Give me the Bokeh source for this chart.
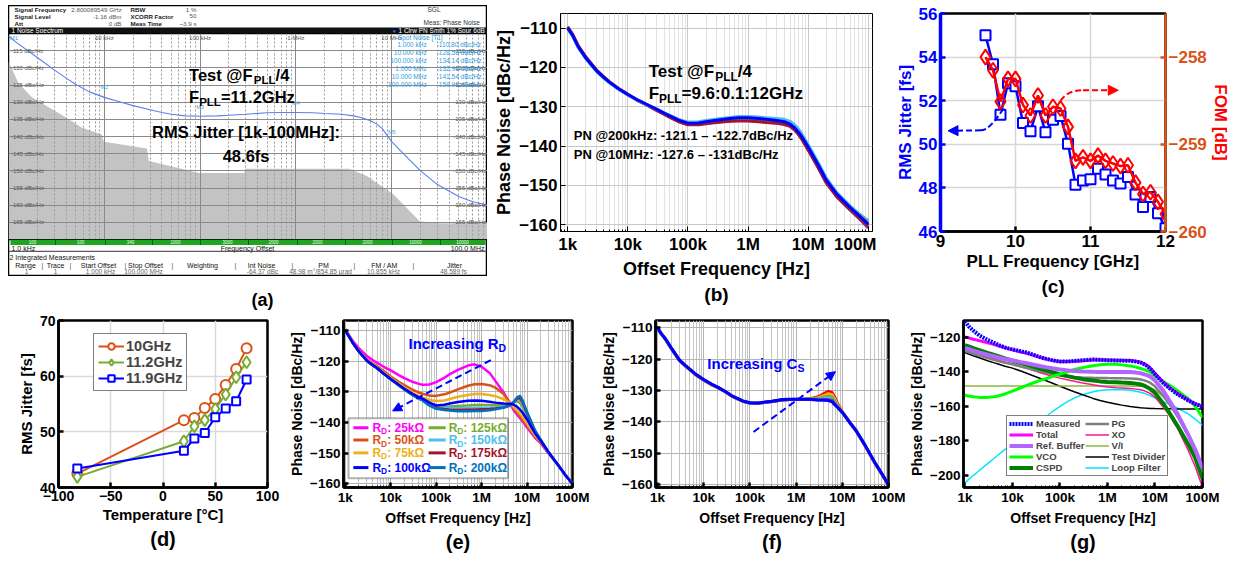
import json
from bokeh.plotting import figure
from bokeh.layouts import row, column
from bokeh.models import (Range1d, LinearAxis, FixedTicker, Legend, LegendItem, Title, Spacer,
                          BoxAnnotation, Arrow, NormalHead, CustomJSTickFormatter)
from bokeh.core.properties import value
from bokeh.embed import file_html
from bokeh.resources import INLINE

FONT = "Liberation Sans"

# ------------------------------------------------------------------ data
FREQ = [1e3, 1.2e3, 1.5e3, 2e3, 3e3, 4e3, 5e3, 7e3,
        1e4, 1.5e4, 2e4, 3e4, 4e4, 5e4, 7e4,
        1e5, 1.5e5, 2e5, 3e5, 5e5, 7e5,
        1e6, 1.5e6, 2e6, 3e6, 4e6, 5e6, 6e6, 7e6, 8e6,
        1e7, 1.5e7, 2e7, 3e7, 5e7, 7e7, 1e8]
X_TICKS = [1e3, 1e4, 1e5, 1e6, 1e7, 1e8]
X_TICK_LABELS = ["1k", "10k", "100k", "1M", "10M", "100M"]

# (a) analyser screenshot
A_PN = [-110.8, -112.5, -114.5, -117.0, -120.6, -123.0, -124.8, -127.0,
        -128.6, -130.0, -131.0, -132.2, -133.0, -133.5, -134.0,
        -134.1, -134.0, -133.8, -133.5, -133.1, -133.0,
        -133.0, -133.1, -133.3, -133.5, -134.0, -134.6, -135.4, -136.4, -137.8,
        -141.5, -146.5, -150.0, -154.0, -157.5, -159.0, -160.0]
A_GRAY_F = [1e3, 1.27e3, 1.74e3, 2.62e3, 3.96e3, 5.8e3, 9.4e3, 9.9e3, 27.9e3, 29.2e3,
            97.8e3, 289e3, 296e3, 3.6e6, 5.5e6, 10.4e6, 19.6e6, 31.5e6, 1e8]
A_GRAY_DB = [-118.2, -124.4, -128.5, -131.5, -134.4, -137.4, -139.4, -141.5, -143.5, -147.1,
             -150.6, -150.6, -149.4, -149.4, -151.5, -156.8, -164.7, -165.3, -165.3]
A_YTICKS = [-115, -120, -125, -130, -135, -140, -145, -150, -155, -160, -165]
A_YTICK_LABELS = ["%d dBc/Hz" % t for t in A_YTICKS]
A_XTICKS = [1e4, 1e5, 1e6, 1e7]
A_XTICK_LABELS = ["10 kHz", "100 kHz", "1 MHz", "10 MHz"]
A_MARK_F = [1e4, 1e5, 1e6, 1e7]
A_MARK_DB = [-126.5, -132.4, -131.2, -139.7]
A_MARK_LAB = ["M2", "M3", "M4", "M5"]
A_SPOT_F = ["1.000 kHz", "10.000 kHz", "100.000 kHz", "1.000 MHz", "10.000 MHz", "100.000 MHz"]
A_SPOT_V = ["-110.80 dBc/Hz", "-128.58 dBc/Hz", "-134.14 dBc/Hz", "-132.96 dBc/Hz",
            "-141.54 dBc/Hz", "-159.99 dBc/Hz"]
A_HDR_LAB = ["Signal Frequency", "Signal Level", "Att"]
A_HDR_VAL = ["2.800089549 GHz", "-1.16 dBm", "0 dB"]
A_HDR_LAB2 = ["RBW", "XCORR Factor", "Meas Time"]
A_HDR_VAL2 = ["1 %", "50", "~3.9 s"]
A_BAR_LABELS = ["100", "100", "340", "1000", "3000", "2000", "2000", "2000", "10000", "10000"]
A_COLS = ["Range", "Trace", "Start Offset", "Stop Offset", "Weighting", "Int Noise", "PM",
          "FM / AM", "Jitter"]
A_VALS = ["1", "1", "1.000 kHz", "100.000 MHz", "", "-64.37 dBc", "48.98 m°/854.85 µrad",
          "10.855 kHz", "48.589 fs"]

# (b) 25 PLL frequencies, representative traces
B_BLUE = [-110.0, -111.8, -114.8, -117.6, -120.8, -122.6, -123.8, -125.4,
          -126.9, -128.4, -129.3, -130.6, -131.6, -132.3, -133.4,
          -134.2, -134.1, -133.8, -133.4, -133.0, -132.8,
          -132.8, -133.0, -133.2, -133.5, -133.8, -134.4, -135.4, -136.6, -137.8,
          -140.2, -145.0, -148.6, -152.2, -155.6, -157.6, -159.8]
B_ORANGE = [-109.6, -111.5, -114.5, -117.3, -120.6, -122.4, -123.7, -125.3,
            -126.8, -128.4, -129.4, -130.8, -131.8, -132.6, -133.7,
            -134.5, -134.5, -134.2, -133.9, -133.6, -133.5,
            -133.5, -133.7, -133.9, -134.1, -134.3, -134.8, -135.8, -137.0, -138.2,
            -140.6, -145.4, -149.0, -152.6, -156.0, -158.0, -160.3]
B_CYAN = [-110.2, -112.0, -115.0, -117.8, -121.0, -122.8, -124.0, -125.5,
          -127.0, -128.5, -129.4, -130.6, -131.5, -132.2, -133.2,
          -133.9, -133.8, -133.5, -133.1, -132.7, -132.5,
          -132.5, -132.6, -132.8, -133.0, -133.2, -133.7, -134.6, -135.8, -137.1,
          -139.6, -144.4, -148.1, -151.8, -155.2, -157.2, -159.4]
B_GREEN = [-110.1, -111.9, -114.9, -117.7, -120.9, -122.7, -123.9, -125.5,
           -127.0, -128.5, -129.4, -130.7, -131.7, -132.4, -133.5,
           -134.3, -134.2, -133.9, -133.6, -133.2, -133.0,
           -133.0, -133.2, -133.4, -133.7, -134.0, -134.6, -135.6, -136.8, -138.0,
           -140.4, -145.2, -148.8, -152.3, -155.4, -157.2, -159.0]
B_PURPLE = [-109.8, -111.7, -114.7, -117.5, -120.7, -122.5, -123.8, -125.4,
            -126.9, -128.4, -129.3, -130.7, -131.7, -132.5, -133.6,
            -134.4, -134.3, -134.0, -133.7, -133.3, -133.2,
            -133.2, -133.4, -133.6, -133.9, -134.2, -134.7, -135.7, -137.0, -138.3,
            -140.9, -145.8, -149.4, -152.9, -156.3, -158.4, -160.8]
B_RED = [-109.9, -111.6, -114.6, -117.4, -120.7, -122.5, -123.8, -125.4,
         -126.9, -128.5, -129.5, -130.9, -131.9, -132.7, -133.8,
         -134.6, -134.6, -134.3, -134.0, -133.7, -133.6,
         -133.6, -133.8, -134.0, -134.2, -134.5, -135.0, -136.0, -137.2, -138.5,
         -141.0, -145.6, -149.2, -152.8, -156.1, -158.1, -160.1]
B_SERIES = [B_ORANGE, B_PURPLE, B_GREEN, B_RED, B_CYAN, B_BLUE]
B_COLORS = ["#D95319", "#7E2F8E", "#77AC30", "#A2142F", "#4DBEEE", "#0000FF"]

# (c) jitter / FOM vs PLL frequency
C_FREQ = [9.6, 9.7, 9.8, 9.9, 10.0, 10.1, 10.2, 10.3, 10.4, 10.5, 10.6, 10.7, 10.8,
          10.9, 11.0, 11.1, 11.2, 11.3, 11.4, 11.5, 11.6, 11.7, 11.8, 11.9, 12.0]
C_JITTER = [55.0, 53.67, 51.36, 52.8, 52.66, 50.98, 50.6, 51.74, 50.55, 51.13, 51.3, 50.03,
            48.14, 48.34, 48.4, 48.88, 48.62, 48.34, 48.2, 48.5, 47.7, 47.12, 47.58, 46.84, 46.15]
C_FOM = [-258.0, -258.15, -258.51, -258.25, -258.25, -258.55, -258.67, -258.44, -258.67,
         -258.57, -258.59, -258.8, -259.19, -259.15, -259.19, -259.13, -259.19, -259.22,
         -259.25, -259.24, -259.44, -259.57, -259.55, -259.66, -259.8]

# (d) jitter vs temperature
D_TEMP = [-82, 20, 30, 40, 50, 60, 70, 80]
D_10G = [42.5, 52.1, 52.5, 54.3, 55.9, 58.4, 61.3, 65.0]
D_112G = [41.9, 48.3, 51.0, 52.1, 54.1, 56.7, 59.8, 62.5]
D_119G = [43.4, 46.6, 48.8, 49.8, 52.6, 54.2, 55.5, 59.4]
D_LABELS = ["10GHz", "11.2GHz", "11.9GHz"]

# (e) R_D sweep
E_25K = [-109.5, -111.4, -113.6, -115.8, -118.3, -119.6, -120.5, -121.8,
         -123.0, -124.5, -125.5, -126.7, -127.3, -127.7, -127.6,
         -126.8, -125.4, -124.2, -122.8, -121.4, -121.0,
         -121.8, -123.8, -126.4, -130.0, -133.4, -135.8, -137.4, -138.6, -139.6,
         -141.6, -145.0, -146.8, -150.2, -154.2, -157.2, -160.0]
E_50K = [-109.5, -111.6, -114.0, -116.5, -119.3, -120.7, -121.6, -123.2,
         -125.0, -126.7, -127.8, -129.3, -130.1, -130.6, -131.2,
         -131.3, -130.8, -130.2, -129.2, -128.0, -127.5,
         -127.4, -127.8, -128.6, -130.6, -133.0, -135.2, -136.8, -138.0, -139.0,
         -141.0, -144.6, -146.5, -150.1, -154.2, -157.2, -160.0]
E_75K = [-109.5, -111.6, -114.1, -116.7, -119.6, -121.0, -122.0, -123.7,
         -125.5, -127.3, -128.6, -130.2, -131.2, -131.8, -132.6,
         -133.0, -132.8, -132.3, -131.6, -131.0, -130.7,
         -130.7, -131.0, -131.4, -132.3, -133.4, -134.8, -136.0, -137.2, -138.2,
         -140.3, -144.2, -146.3, -150.0, -154.2, -157.2, -160.0]
E_100K = [-110.0, -111.9, -114.2, -116.8, -119.8, -121.2, -122.2, -124.0,
          -125.8, -127.7, -129.0, -130.6, -131.6, -132.2, -133.4,
          -134.4, -134.2, -133.8, -133.3, -132.9, -132.8,
          -132.9, -133.2, -133.5, -133.8, -133.9, -134.1, -134.8, -135.8, -136.8,
          -139.0, -143.5, -146.0, -149.8, -154.2, -157.2, -160.0]
E_125K = [-110.0, -111.9, -114.3, -116.9, -119.9, -121.3, -122.3, -124.1,
          -125.9, -127.8, -129.1, -130.8, -131.8, -132.5, -133.8,
          -134.8, -134.9, -134.8, -134.6, -134.4, -134.3,
          -134.3, -134.3, -134.3, -134.2, -134.0, -133.4, -133.0, -133.6, -135.0,
          -138.0, -143.2, -145.9, -149.8, -154.2, -157.2, -160.0]
E_150K = [-110.0, -111.9, -114.3, -116.9, -119.9, -121.3, -122.3, -124.1,
          -125.9, -127.8, -129.2, -130.9, -131.9, -132.6, -134.0,
          -135.0, -135.2, -135.3, -135.3, -135.2, -135.2,
          -135.2, -135.1, -135.0, -134.8, -134.3, -133.5, -132.6, -132.6, -134.0,
          -137.4, -143.0, -145.8, -149.8, -154.2, -157.2, -160.0]
E_175K = [-110.0, -111.9, -114.3, -116.9, -119.9, -121.3, -122.3, -124.1,
          -125.9, -127.8, -129.2, -131.0, -132.0, -132.7, -134.2,
          -135.3, -135.6, -135.8, -135.9, -135.8, -135.8,
          -135.7, -135.6, -135.4, -135.1, -134.5, -133.5, -132.2, -132.0, -133.4,
          -137.0, -142.8, -145.7, -149.8, -154.2, -157.2, -160.0]
E_200K = [-110.0, -111.9, -114.3, -116.9, -119.9, -121.3, -122.3, -124.1,
          -125.9, -127.8, -129.2, -131.0, -132.1, -132.8, -134.4,
          -135.5, -135.9, -136.1, -136.3, -136.3, -136.2,
          -136.2, -136.0, -135.7, -135.2, -134.6, -133.4, -131.8, -131.3, -132.8,
          -136.6, -142.6, -145.6, -149.8, -154.2, -157.2, -160.0]
E_SERIES = [E_25K, E_50K, E_75K, E_100K, E_125K, E_150K, E_175K, E_200K]
E_COLORS = ["#FF00FF", "#D95319", "#EDB120", "#0000FF", "#77AC30", "#4DBEEE", "#A2142F", "#0072BD"]
E_LABELS = ["25kΩ", "50kΩ", "75kΩ", "100kΩ", "125kΩ", "150kΩ", "175kΩ", "200kΩ"]

# (f) C_S sweep
F_BLUE = [-110.0, -111.8, -113.6, -116.5, -120.3, -122.0, -123.2, -125.0,
          -126.5, -128.0, -128.9, -130.4, -131.6, -132.3, -133.3,
          -133.9, -134.0, -133.7, -133.4, -132.9, -132.8,
          -132.8, -132.8, -132.8, -133.0, -133.1, -133.2, -133.6, -134.7, -135.5,
          -137.0, -140.5, -142.8, -147.0, -152.8, -156.2, -160.0]
F_PURPLE = [-110.1, -111.9, -113.7, -116.6, -120.4, -122.1, -123.3, -125.1,
            -126.6, -128.1, -129.0, -130.5, -131.7, -132.4, -133.4,
            -134.0, -134.1, -133.8, -133.5, -133.0, -132.9,
            -132.9, -132.9, -132.9, -133.0, -132.9, -132.9, -133.1, -134.3, -135.3,
            -136.9, -140.5, -142.9, -147.1, -152.9, -156.3, -160.1]
F_CYAN = [-110.1, -111.9, -113.7, -116.6, -120.4, -122.1, -123.3, -125.1,
          -126.6, -128.1, -129.0, -130.5, -131.7, -132.4, -133.4,
          -134.0, -134.1, -133.8, -133.5, -133.0, -132.9,
          -132.9, -132.9, -132.9, -132.7, -132.5, -132.4, -132.7, -133.9, -135.2,
          -136.9, -140.5, -142.9, -147.1, -152.9, -156.3, -160.1]
F_GREEN = [-110.1, -111.9, -113.7, -116.6, -120.4, -122.1, -123.3, -125.1,
           -126.6, -128.1, -129.0, -130.5, -131.7, -132.4, -133.4,
           -134.0, -134.1, -133.8, -133.5, -133.0, -132.9,
           -132.9, -132.8, -132.7, -132.5, -132.1, -131.8, -132.1, -133.5, -135.0,
           -137.0, -140.5, -142.9, -147.1, -152.9, -156.3, -160.1]
F_ORANGE = [-110.1, -111.9, -113.7, -116.6, -120.4, -122.1, -123.3, -125.1,
            -126.6, -128.1, -129.0, -130.5, -131.7, -132.4, -133.4,
            -134.0, -134.1, -133.8, -133.5, -133.0, -132.9,
            -132.9, -132.8, -132.7, -132.3, -131.6, -131.0, -131.3, -133.0, -134.7,
            -136.9, -140.5, -142.9, -147.1, -152.9, -156.3, -160.1]
F_RED = [-110.2, -111.9, -113.8, -116.7, -120.5, -122.2, -123.4, -125.2,
         -126.7, -128.2, -129.0, -130.5, -131.7, -132.4, -133.4,
         -134.0, -134.1, -133.8, -133.5, -133.0, -132.9,
         -132.8, -132.7, -132.6, -132.0, -131.0, -130.3, -130.6, -132.4, -134.3,
         -136.8, -140.4, -142.9, -147.2, -153.0, -156.4, -160.2]
F_SERIES = [F_RED, F_ORANGE, F_GREEN, F_CYAN, F_PURPLE, F_BLUE]
F_COLORS = ["#FF0000", "#EDB120", "#77AC30", "#4DBEEE", "#7E2F8E", "#0000FF"]

# (g) noise contributions
G_MEAS = [-110.6, -113.5, -116.0, -118.7, -121.4, -123.0, -124.2, -125.8,
          -126.9, -128.0, -128.7, -130.4, -131.6, -132.3, -133.3,
          -134.0, -134.0, -133.6, -133.2, -132.8, -132.9,
          -133.2, -133.3, -133.4, -133.5, -134.0, -134.6, -135.6, -136.8, -138.2,
          -141.3, -146.5, -149.4, -153.0, -156.6, -158.6, -160.2]
G_TOTAL = [-119.6, -120.2, -121.0, -121.8, -123.0, -124.0, -124.8, -126.0,
           -127.2, -128.4, -129.2, -130.6, -131.7, -132.4, -133.3,
           -133.9, -134.0, -133.8, -133.5, -133.1, -133.0,
           -133.1, -133.2, -133.3, -133.4, -133.8, -134.4, -135.3, -136.4, -137.8,
           -140.8, -146.0, -149.0, -152.6, -156.3, -158.4, -160.0]
G_REFBUF = [-126.0, -126.7, -127.6, -128.6, -130.0, -130.9, -131.6, -132.5,
            -133.2, -134.3, -135.0, -136.0, -136.7, -137.2, -137.9,
            -138.6, -139.1, -139.4, -139.7, -139.9, -140.0,
            -140.0, -140.0, -140.0, -140.1, -140.4, -140.8, -141.4, -142.0, -142.8,
            -145.0, -151.0, -156.6, -164.5, -176.5, -185.0, -196.0]
G_VCO = [-153.6, -154.0, -154.4, -154.8, -154.8, -154.5, -154.0, -152.8,
         -151.2, -149.2, -147.8, -146.0, -144.8, -144.0, -142.6,
         -141.3, -139.8, -138.6, -137.5, -136.4, -135.8,
         -135.5, -135.6, -135.9, -136.5, -137.2, -138.0, -138.7, -139.4, -140.2,
         -142.4, -145.6, -147.6, -151.0, -155.5, -160.0, -166.5]
G_CSPD = [-124.5, -125.2, -126.2, -127.3, -128.9, -130.0, -130.8, -132.1,
          -133.4, -134.9, -135.9, -137.3, -138.3, -139.0, -140.2,
          -141.5, -142.6, -143.3, -144.2, -145.0, -145.5,
          -145.8, -146.0, -146.2, -146.4, -146.8, -147.3, -148.0, -149.0, -150.0,
          -152.2, -158.5, -163.7, -171.5, -182.0, -190.0, -202.0]
G_PG = [-127.8, -128.5, -129.4, -130.5, -132.0, -133.0, -133.7, -134.7,
        -135.6, -136.9, -137.8, -139.0, -139.8, -140.4, -141.2,
        -142.0, -142.6, -142.9, -143.2, -143.4, -143.5,
        -143.6, -143.7, -143.7, -143.8, -144.0, -144.4, -144.9, -145.6, -146.4,
        -148.4, -154.0, -158.5, -166.0, -177.0, -186.0, -198.0]
G_XO = [-126.9, -127.6, -128.5, -129.6, -131.2, -132.3, -133.1, -134.2,
        -135.2, -136.8, -137.9, -139.5, -140.6, -141.4, -142.5,
        -143.6, -144.7, -145.4, -146.4, -147.5, -148.2,
        -148.7, -149.2, -149.4, -149.7, -150.0, -150.4, -151.0, -151.8, -152.6,
        -154.6, -160.5, -165.0, -173.0, -185.5, -195.0, -207.0]
G_VI = [-148.2, -148.2, -148.2, -148.2, -148.2, -148.2, -148.2, -148.2,
        -148.2, -148.2, -148.2, -148.2, -148.2, -148.2, -148.2,
        -148.2, -148.2, -148.2, -148.2, -148.2, -148.2,
        -148.2, -148.2, -148.2, -148.2, -148.3, -148.4, -148.6, -148.9, -149.3,
        -150.5, -154.5, -158.5, -166.0, -177.5, -186.5, -198.5]
G_TESTDIV = [-128.7, -129.6, -130.6, -131.8, -133.5, -134.6, -135.4, -136.7,
             -137.8, -139.5, -140.8, -142.7, -144.0, -145.0, -146.6,
             -148.3, -150.2, -151.5, -153.3, -155.4, -156.6,
             -157.6, -158.6, -159.3, -160.1, -160.5, -160.8, -161.0, -161.1, -161.2,
             -161.3, -161.4, -161.4, -161.5, -161.5, -161.5, -161.5]
G_LOOPF = [-204.5, -202.5, -200.2, -197.3, -193.3, -190.5, -188.3, -185.0,
           -181.6, -177.6, -174.9, -170.9, -168.2, -166.2, -163.0,
           -160.0, -157.0, -155.2, -153.2, -151.5, -150.8,
           -150.4, -150.3, -150.4, -150.7, -151.2, -151.8, -152.5, -153.2, -153.9,
           -155.2, -157.4, -158.8, -161.0, -164.4, -167.4, -171.0]
G_NAMES = ["Measured", "Total", "Ref. Buffer", "VCO", "CSPD",
           "PG", "XO", "V/I", "Test Divider", "Loop Filter"]
G_SERIES = [G_MEAS, G_TOTAL, G_REFBUF, G_VCO, G_CSPD, G_PG, G_XO, G_VI, G_TESTDIV, G_LOOPF]
G_COLORS = ["#0000FF", "#FF00FF", "#B266FF", "#00FF00", "#008000",
            "#808080", "#FF1493", "#8DB83F", "#000000", "#00E5FF"]
G_WIDTHS = [4, 3, 4, 3, 4, 2.5, 1.5, 1.5, 1.5, 1.5]

for s in [A_PN] + B_SERIES + E_SERIES + F_SERIES + G_SERIES:
    assert len(s) == len(FREQ), len(s)

# ------------------------------------------------------------------ helpers
W = {' ': 278, '@': 975, 'T': 611, 'e': 556, 's': 556, 't': 333, 'F': 611, 'P': 667,
     'L': 611, 'R': 722, 'D': 722, 'C': 722, 'S': 667, 'I': 278, 'n': 611, 'c': 556,
     'r': 389, 'a': 556, 'i': 278, 'g': 611}


def tw(s, size):
    return sum(W.get(ch, 556) for ch in s) * size / 1000.0


def rich(p, x, y, pieces, color, size):
    off = 0.0
    for txt, sub in pieces:
        fs = size * 0.7 if sub else size
        r = p.text(x=[x], y=[y], text=[txt], x_offset=off,
                   y_offset=(size * 0.3 if sub else 0),
                   text_font=value(FONT), text_font_style="bold",
                   text_font_size="%.1fpx" % fs, text_color=color,
                   text_align="left", text_baseline="middle")
        r.level = "overlay"
        off += tw(txt, fs)


FMT_CODE = ("const labs = %s; const i = Math.round(Math.log10(tick)) - 3;"
            " return (i >= 0 && i < labs.length) ? labs[i] : '';" % json.dumps(X_TICK_LABELS))
X_MINOR = [m * 10 ** e for e in range(2, 9) for m in range(2, 10)]


def style_axes(p, fs, lab_fs, lw=1.0):
    for ax in list(p.xaxis) + list(p.yaxis):
        ax.major_label_text_font = FONT
        ax.major_label_text_font_style = "bold"
        ax.major_label_text_font_size = fs
        ax.major_label_text_color = "black"
        ax.axis_label_text_font = FONT
        ax.axis_label_text_font_style = "bold"
        ax.axis_label_text_font_size = lab_fs
        ax.axis_label_text_color = "black"
        ax.major_tick_in = 5
        ax.major_tick_out = 0
        ax.minor_tick_in = 2
        ax.minor_tick_out = 0
        ax.axis_line_width = lw
        ax.major_tick_line_width = lw
        ax.major_label_standoff = 3
        ax.axis_label_standoff = 2


def log_x(p):
    p.xaxis.ticker = FixedTicker(ticks=X_TICKS, minor_ticks=X_MINOR)
    p.xaxis.formatter = CustomJSTickFormatter(code=FMT_CODE)


def panel_title(p, txt, size):
    p.add_layout(Title(text=txt, align="center", text_font=FONT, text_font_style="bold",
                       text_font_size=size, text_color="black", standoff=0), "below")


def base_fig(w, h, **kw):
    p = figure(width=w, height=h, output_backend="svg", toolbar_location=None, **kw)
    p.background_fill_color = "white"
    p.border_fill_color = "white"
    return p


# ------------------------------------------------------------------ (a)
AW = 479
a_head = base_fig(AW, 28, x_range=Range1d(0, AW), y_range=Range1d(28, 0),
                  x_axis_location=None, y_axis_location=None, min_border=0)
a_head.grid.visible = False
a_head.outline_line_color = "black"
a_head.outline_line_width = 1.5
a_head.add_layout(BoxAnnotation(left=0, right=AW, bottom=22, top=28, fill_color="#111111",
                                fill_alpha=1, line_color=None))
ys = [3.5, 10.5, 17.5]
a_head.text(x=[6] * 3, y=ys, text=A_HDR_LAB, text_font=value(FONT), text_font_style="bold",
            text_font_size="6.2px", text_color="#222222", text_baseline="middle")
a_head.text(x=[113] * 3, y=ys, text=A_HDR_VAL, text_font=value(FONT), text_font_size="6.2px",
            text_color="#555555", text_baseline="middle", text_align="right")
a_head.text(x=[122] * 3, y=ys, text=A_HDR_LAB2, text_font=value(FONT), text_font_style="bold",
            text_font_size="6.2px", text_color="#222222", text_baseline="middle")
a_head.text(x=[188] * 3, y=ys, text=A_HDR_VAL2, text_font=value(FONT), text_font_size="6.2px",
            text_color="#555555", text_baseline="middle", text_align="right")
a_head.text(x=[419, 415], y=[4, 17], text=["SGL", "Meas: Phase Noise"], text_font=value(FONT),
            text_font_size="6.5px", text_color="#333333", text_baseline="middle")
r = a_head.text(x=[3], y=[25], text=["1 Noise Spectrum"], text_font=value(FONT),
                text_font_size="6.5px", text_color="white", text_baseline="middle")
r.level = "overlay"
r = a_head.text(x=[384], y=[25], text=["●"], text_font=value(FONT),
                text_font_size="6px", text_color="#3355ff", text_baseline="middle")
r.level = "overlay"
r = a_head.text(x=[390], y=[25], text=["1 Clrw PN Smth 1% Spur 6dB"], text_font=value(FONT),
                text_font_size="6.5px", text_color="white", text_baseline="middle")
r.level = "overlay"

a_spec = base_fig(AW, 206, x_axis_type="log", x_range=Range1d(1e3, 1e8),
                  y_range=Range1d(-170, -110), x_axis_location=None, y_axis_location=None,
                  min_border=0)
a_spec.outline_line_color = "black"
a_spec.outline_line_width = 1.5
a_spec.xgrid.ticker = FixedTicker(ticks=X_TICKS, minor_ticks=X_MINOR)
a_spec.ygrid.ticker = FixedTicker(ticks=A_YTICKS)
a_spec.xgrid.grid_line_color = "#8a8a8a"
a_spec.xgrid.minor_grid_line_color = "#9a9a9a"
a_spec.xgrid.minor_grid_line_dash = "2 2"
a_spec.ygrid.grid_line_color = "#8a8a8a"
g = a_spec.varea(x=A_GRAY_F, y1=-170, y2=A_GRAY_DB, fill_color="#c3c3c3")
g.level = "image"
a_spec.line(FREQ, A_PN, line_color="#5a7ff0", line_width=1.1)
a_spec.text(x=[1.06e3] * len(A_YTICKS), y=A_YTICKS, text=A_YTICK_LABELS, text_font=value(FONT),
            text_font_size="6px", text_color="#555555", text_baseline="middle")
a_spec.text(x=[9.7e7] * len(A_YTICKS), y=A_YTICKS, text=A_YTICK_LABELS, text_font=value(FONT),
            text_font_size="6px", text_color="#555555", text_baseline="middle",
            text_align="right")
a_spec.text(x=A_XTICKS, y=[-110.4] * 4, text=A_XTICK_LABELS, text_font=value(FONT),
            text_font_size="6px", text_color="#555555", text_baseline="top", text_align="center")
a_spec.text(x=[1.03e3], y=[-110.4], text=["M1"], text_font=value(FONT), text_font_size="6px",
            text_color="#3f9fe0", text_baseline="top")
a_spec.text(x=A_MARK_F, y=A_MARK_DB, text=A_MARK_LAB, text_font=value(FONT),
            text_font_size="5.5px", text_color="#3f9fe0", text_baseline="bottom",
            text_align="center")
a_spec.text(x=[1.16e7], y=[-111.2], text=["Spot Noise [T1]"], text_font=value(FONT),
            text_font_size="6.5px", text_color="#2f9be0", text_baseline="middle")
SPOT_Y = [-113.2, -115.6, -117.9, -120.3, -122.6, -124.9]
a_spec.text(x=[2.32e7] * 6, y=SPOT_Y, text=A_SPOT_F, text_font=value(FONT),
            text_font_size="6.5px", text_color="#2f9be0", text_baseline="middle",
            text_align="right")
a_spec.text(x=[2.95e7] * 6, y=SPOT_Y, text=A_SPOT_V, text_font=value(FONT),
            text_font_size="6.5px", text_color="#2f9be0", text_baseline="middle")
rich(a_spec, 7.67e4, -122.1, [("Test @F", False), ("PLL", True), ("/4", False)], "black", 16.5)
rich(a_spec, 7.67e4, -128.5, [("F", False), ("PLL", True), ("=11.2GHz", False)], "black", 16.5)
for txt, yy in (("RMS Jitter [1k-100MHz]:", -138.8), ("48.6fs", -145.6)):
    r = a_spec.text(x=[3.02e5], y=[yy], text=[txt], text_font=value(FONT),
                    text_font_style="bold", text_font_size="16.5px", text_color="black",
                    text_align="center", text_baseline="middle")
    r.level = "overlay"

a_foot = base_fig(AW, 37, x_range=Range1d(0, AW), y_range=Range1d(37, 0),
                  x_axis_location=None, y_axis_location=None, min_border=0)
a_foot.grid.visible = False
a_foot.outline_line_color = "black"
a_foot.outline_line_width = 1.5
a_foot.add_layout(BoxAnnotation(left=2, right=477, bottom=0, top=5.5, fill_color="#1fa51f",
                                fill_alpha=1, line_color=None))
a_foot.segment(x0=[47, 97, 144, 192, 240, 289, 337, 384, 432], y0=0,
               x1=[47, 97, 144, 192, 240, 289, 337, 384, 432], y1=5.5,
               line_color="#0b5d0b", line_width=1, level="overlay")
r = a_foot.text(x=[24, 72, 122, 167, 219, 265, 309, 359, 407, 454], y=[2.9] * 10,
                text=A_BAR_LABELS, text_font=value(FONT), text_font_size="4.5px",
                text_color="#e8ffe8", text_align="center", text_baseline="middle")
r.level = "overlay"
a_foot.text(x=[3], y=[8.6], text=["1.0 kHz"], text_font=value(FONT), text_font_size="7px",
            text_color="#111111", text_baseline="middle")
a_foot.text(x=[239], y=[8.6], text=["Frequency Offset"], text_font=value(FONT),
            text_font_size="7px", text_color="#111111", text_baseline="middle",
            text_align="center")
a_foot.text(x=[476], y=[8.6], text=["100.0 MHz"], text_font=value(FONT), text_font_size="7px",
            text_color="#111111", text_baseline="middle", text_align="right")
a_foot.segment(x0=[0], y0=[11.8], x1=[AW], y1=[11.8], line_color="#333333", line_width=1)
a_foot.text(x=[1], y=[18], text=["2 Integrated Measurements"], text_font=value(FONT),
            text_font_size="7px", text_color="#111111", text_baseline="middle")
a_foot.text(x=[17, 47, 90, 137, 194, 253, 315, 376, 446], y=[25.5] * 9, text=A_COLS,
            text_font=value(FONT), text_font_size="7px", text_color="#111111",
            text_baseline="middle", text_align="center")
a_foot.text(x=[34, 62, 117, 164, 227, 284, 346, 405], y=[25.5] * 8, text=["|"] * 8,
            text_font=value(FONT), text_font_size="7px", text_color="#555555",
            text_baseline="middle", text_align="center")
a_foot.text(x=[18, 47, 92, 135, 194, 254, 312, 375, 445], y=[31.5] * 9, text=A_VALS,
            text_font=value(FONT), text_font_size="6.5px", text_color="#666666",
            text_baseline="middle", text_align="center")

a_lab = base_fig(AW, 38, x_range=Range1d(0, AW), y_range=Range1d(38, 0),
                 x_axis_location=None, y_axis_location=None, min_border=0)
a_lab.grid.visible = False
a_lab.outline_line_color = None
a_lab.text(x=[254], y=[23], text=["(a)"], text_font=value(FONT), text_font_style="bold",
           text_font_size="18px", text_color="black", text_align="center",
           text_baseline="middle")

# ------------------------------------------------------------------ (b)
pb = base_fig(389, 314, x_axis_type="log", x_range=Range1d(10 ** 2.88, 10 ** 8.07),
              y_range=Range1d(-161.7, -106.3), min_border_left=73, min_border_right=4,
              min_border_top=12, min_border_bottom=77)
log_x(pb)
pb.yaxis.ticker = FixedTicker(ticks=[-160, -150, -140, -130, -120, -110])
pb.xaxis.axis_label = "Offset Frequency [Hz]"
pb.yaxis.axis_label = "Phase Noise [dBc/Hz]"
style_axes(pb, "17px", "18px")
pb.outline_line_color = "black"
pb.xgrid.grid_line_color = "#c8c8c8"
pb.xgrid.minor_grid_line_color = "#e2e2e2"
pb.ygrid.grid_line_color = "#c8c8c8"
for s, c in zip(B_SERIES, B_COLORS):
    pb.line(FREQ, s, line_color=c, line_width=3)
rich(pb, 2.22e4, -121.1, [("Test @F", False), ("PLL", True), ("/4", False)], "black", 17)
rich(pb, 2.22e4, -126.7, [("F", False), ("PLL", True), ("=9.6:0.1:12GHz", False)], "black", 17)
pb.text(x=[1.26e3, 1.26e3], y=[-137.3, -142.1],
        text=["PN @200kHz: -121.1 – -122.7dBc/Hz", "PN @10MHz: -127.6 – -131dBc/Hz"],
        text_font=value(FONT), text_font_style="bold", text_font_size="13px",
        text_color="black", text_baseline="middle")
panel_title(pb, "(b)", "19px")

# ------------------------------------------------------------------ (c)
pc = base_fig(356, 314, x_range=Range1d(9, 12), y_range=Range1d(46, 56),
              min_border_left=64, min_border_right=62, min_border_top=13, min_border_bottom=83)
pc.extra_y_ranges = {"fom": Range1d(-260, -257.5)}
pc.xaxis.ticker = FixedTicker(ticks=[9, 10, 11, 12])
pc.yaxis.ticker = FixedTicker(ticks=[46, 48, 50, 52, 54, 56])
pc.xaxis.axis_label = "PLL Frequency [GHz]"
pc.yaxis.axis_label = "RMS Jitter [fs]"
rax = LinearAxis(y_range_name="fom", axis_label="FOM [dB]",
                 ticker=FixedTicker(ticks=[-260, -259, -258]))
pc.add_layout(rax, "right")
style_axes(pc, "17px", "17px", lw=2.5)
for ax in pc.yaxis:
    ax.major_label_standoff = 3
    ax.axis_label_standoff = 1
lax = pc.left[0]
lax.axis_line_color = "#0000FF"
lax.axis_line_width = 3.5
lax.major_tick_line_color = "#0000FF"
lax.major_label_text_color = "#0000FF"
lax.axis_label_text_color = "#0000FF"
rax.axis_line_color = "#D95319"
rax.axis_line_width = 2.5
rax.major_tick_line_color = "#D95319"
rax.major_label_text_color = "#D95319"
rax.axis_label_text_color = "#FF0000"
pc.outline_line_color = "black"
pc.outline_line_width = 2.5
pc.grid.grid_line_color = "#d6d6d6"
pc.grid.grid_line_width = 1.5
pc.line(C_FREQ, C_JITTER, line_color="#0000FF", line_width=2.5)
pc.scatter(C_FREQ, C_JITTER, marker="square", size=10, line_color="#0000FF", line_width=2,
           fill_color="white")
pc.line(C_FREQ, C_FOM, y_range_name="fom", line_color="#FF0000", line_width=2.5)
pc.scatter(C_FREQ, C_FOM, y_range_name="fom", marker="diamond", size=15, line_color="#FF0000",
           line_width=2, fill_alpha=0)
pc.bezier(x0=[9.84], y0=[51.64], x1=[9.54], y1=[50.64], cx0=[9.72], cy0=[51.0],
          cx1=[9.62], cy1=[50.64], line_color="#0000FF", line_width=2, line_dash="6 3")
pc.add_layout(Arrow(end=NormalHead(size=10, fill_color="#0000FF", line_color="#0000FF"),
                    x_start=9.54, y_start=50.64, x_end=9.1, y_end=50.62,
                    line_color="#0000FF", line_width=2, line_dash="6 3"))
pc.bezier(x0=[10.6], y0=[52.0], x1=[10.9], y1=[52.48], cx0=[10.68], cy0=[52.4],
          cx1=[10.8], cy1=[52.48], line_color="#FF0000", line_width=2, line_dash="6 3")
pc.add_layout(Arrow(end=NormalHead(size=10, fill_color="#FF0000", line_color="#FF0000"),
                    x_start=10.9, y_start=52.48, x_end=11.37, y_end=52.48,
                    line_color="#FF0000", line_width=2, line_dash="6 3"))
panel_title(pc, "(c)", "19px")

# ------------------------------------------------------------------ (d)
ROW2_H = 248
pd_ = base_fig(285, ROW2_H, x_range=Range1d(-100, 100), y_range=Range1d(40, 70),
               min_border_left=58, min_border_right=18, min_border_top=6, min_border_bottom=75)
pd_.xaxis.ticker = FixedTicker(ticks=[-100, -50, 0, 50, 100])
pd_.yaxis.ticker = FixedTicker(ticks=[40, 50, 60, 70])
pd_.xaxis.axis_label = "Temperature [°C]"
pd_.yaxis.axis_label = "RMS Jitter [fs]"
style_axes(pd_, "14px", "15px", lw=2.5)
pd_.outline_line_color = "black"
pd_.outline_line_width = 2.5
pd_.grid.grid_line_color = "#d9d9d9"
pd_.grid.grid_line_width = 1.5
items = []
for s, c, m, sz, lab in zip([D_10G, D_112G, D_119G], ["#D95319", "#77AC30", "#0000FF"],
                            ["circle", "diamond", "square"], [10, 12, 8], D_LABELS):
    l = pd_.line(D_TEMP, s, line_color=c, line_width=2)
    sc = pd_.scatter(D_TEMP, s, marker=m, size=sz, line_color=c, line_width=2,
                     fill_color="white")
    items.append(LegendItem(label=lab, renderers=[l, sc]))
leg = Legend(items=items, location=(35, 96), label_text_font=FONT,
             label_text_font_style="bold", label_text_font_size="14.5px",
             border_line_color="black", border_line_width=1.5, padding=4, spacing=0,
             margin=0, glyph_width=26, glyph_height=16, label_height=16, label_standoff=2)
pd_.add_layout(leg)
panel_title(pd_, "(d)", "20px")


# ------------------------------------------------------------------ phase-noise helper
def pn_fig(w, xr, yr, yticks, mbl, mbr, mbt, mbb, grid=True):
    p = base_fig(w, ROW2_H, x_axis_type="log", x_range=Range1d(*xr), y_range=Range1d(*yr),
                 min_border_left=mbl, min_border_right=mbr, min_border_top=mbt,
                 min_border_bottom=mbb)
    log_x(p)
    p.yaxis.ticker = FixedTicker(ticks=yticks)
    p.xaxis.axis_label = "Offset Frequency [Hz]"
    p.yaxis.axis_label = "Phase Noise [dBc/Hz]"
    style_axes(p, "13.5px", "14px", lw=2.5)
    p.xaxis.major_label_standoff = 2
    p.outline_line_color = "black"
    p.outline_line_width = 2.5
    if grid:
        p.xgrid.grid_line_color = "#b4b4b4"
        p.xgrid.minor_grid_line_color = "#c4c4c4"
        p.ygrid.grid_line_color = "#b4b4b4"
    else:
        p.grid.visible = False
    return p


PN_TICKS = [-160, -150, -140, -130, -120, -110]

# ------------------------------------------------------------------ (e)
pe = pn_fig(312, (10 ** 2.96, 1e8), (-161.2, -106.7), PN_TICKS, 58, 25, 3, 64)
for s, c in zip(E_SERIES, E_COLORS):
    if c != "#0000FF":
        pe.line(FREQ, s, line_color=c, line_width=2.5)
pe.line(FREQ, E_100K, line_color="#0000FF", line_width=2.5)
rich(pe, 2.46e4, -114.2, [("Increasing R", False), ("D", True)], "#0000FF", 15)
pe.add_layout(Arrow(end=NormalHead(size=9, fill_color="#0000FF", line_color="#0000FF"),
                    x_start=1.6e6, y_start=-119.6, x_end=1.1e4, y_end=-136.2,
                    line_color="#0000FF", line_width=2, line_dash="7 4"))
pe.add_layout(BoxAnnotation(left=10 ** 3.07, right=10 ** 6.58, top=-138.6, bottom=-158.2,
                            fill_color="white", fill_alpha=1, line_color="black",
                            line_width=2))
LEG_ROWS = [-141.7, -145.7, -149.9, -154.7]
for col in range(2):
    sx0, sx1, tx = ((10 ** 3.177, 10 ** 3.508, 10 ** 3.596) if col == 0
                    else (10 ** 4.832, 10 ** 5.208, 10 ** 5.274))
    for k in range(4):
        idx = col * 4 + k
        seg = pe.segment(x0=[sx0], y0=[LEG_ROWS[k]], x1=[sx1], y1=[LEG_ROWS[k]],
                         line_color=E_COLORS[idx], line_width=3)
        seg.level = "overlay"
        rich(pe, tx, LEG_ROWS[k], [("R", False), ("D", True), (": " + E_LABELS[idx], False)],
             E_COLORS[idx], 12)
panel_title(pe, "(e)", "20px")

# ------------------------------------------------------------------ (f)
pf = pn_fig(308, (10 ** 2.957, 1e8), (-160.9, -107.7), PN_TICKS, 58, 17, 0, 64)
for s, c in zip(F_SERIES, F_COLORS):
    pf.line(FREQ, s, line_color=c, line_width=3)
rich(pf, 1.2e4, -121.5, [("Increasing C", False), ("S", True)], "#0000FF", 15)
pf.add_layout(Arrow(end=NormalHead(size=9, fill_color="#0000FF", line_color="#0000FF"),
                    x_start=1.2e5, y_start=-143.2, x_end=7.1e6, y_end=-124.0,
                    line_color="#0000FF", line_width=2, line_dash="7 4"))
panel_title(pf, "(f)", "20px")

# ------------------------------------------------------------------ (g)
pg = pn_fig(327, (10 ** 2.97, 1e8), (-207.2, -110.1), [-200, -180, -160, -140, -120],
            58, 30, 0, 69, grid=False)
rend = {}
for i in [9, 8, 7, 6, 5, 4, 3, 2, 1, 0]:
    kw = dict(line_color=G_COLORS[i], line_width=G_WIDTHS[i])
    if i == 0:
        kw["line_dash"] = "2 1"
    rend[i] = pg.line(FREQ, G_SERIES[i], **kw)
leg_g = Legend(items=[LegendItem(label=G_NAMES[i], renderers=[rend[i]]) for i in range(10)],
               location=(43, 11), nrows=5, label_text_font=FONT, label_text_font_style="bold",
               label_text_font_size="9.5px", border_line_color="black", border_line_width=1.5,
               padding=2, spacing=0, margin=0, glyph_width=24, glyph_height=11,
               label_height=11, label_standoff=3)
pg.add_layout(leg_g)
panel_title(pg, "(g)", "20px")

# ------------------------------------------------------------------ layout
col_a = column(Spacer(width=AW, height=5), a_head, a_spec, a_foot, a_lab)
top = row(Spacer(width=8, height=314), col_a, pb, pc)
bottom = row(pd_, pe, pf, pg)
layout = column(top, bottom)

open("out.html", "w").write(file_html(layout, INLINE))
